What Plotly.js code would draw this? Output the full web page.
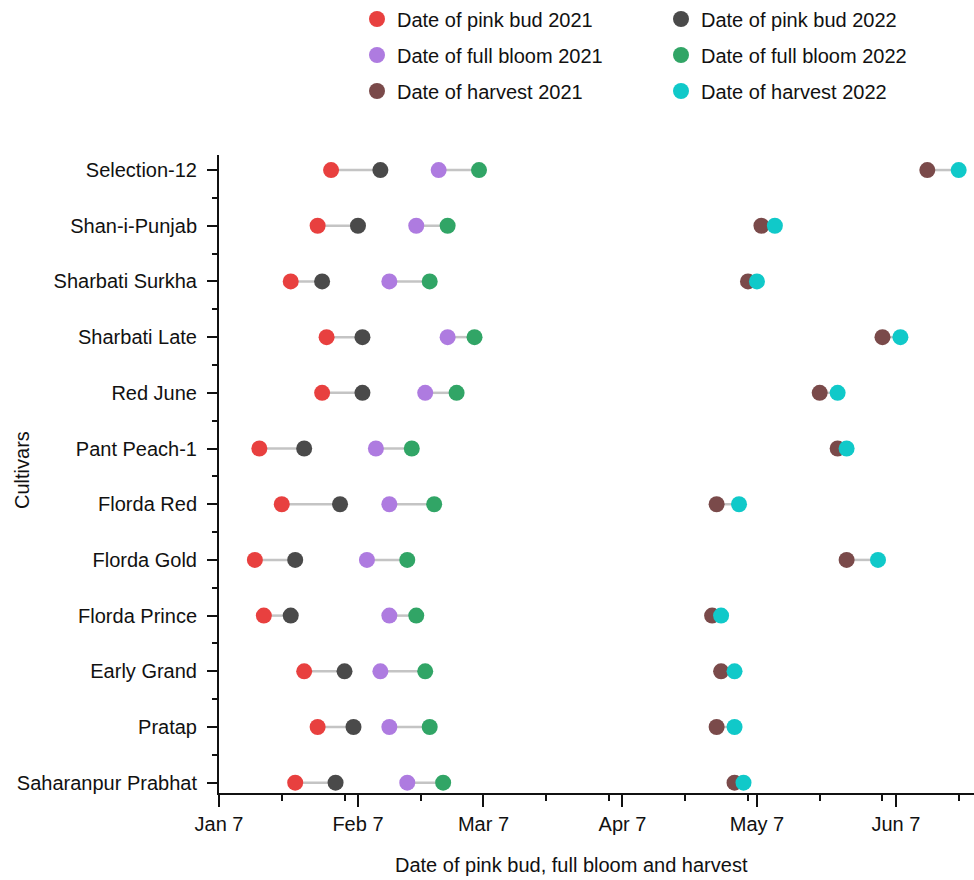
<!DOCTYPE html>
<html><head><meta charset="utf-8">
<script src="https://cdn.plot.ly/plotly-3.0.1.min.js"></script>
<style>html,body{margin:0;padding:0;background:#fff}#chart{width:974px;height:880px}</style>
</head><body><div id="chart"></div>
<script>
// Cultivars, top to bottom as shown
const cultivars = ["Selection-12","Shan-i-Punjab","Sharbati Surkha","Sharbati Late","Red June","Pant Peach-1","Florda Red","Florda Gold","Florda Prince","Early Grand","Pratap","Saharanpur Prabhat"];

// Dates (month-day), plotted on a common reference year
const pinkBud2021   = ["02-01","01-29","01-23","01-31","01-30","01-16","01-21","01-15","01-17","01-26","01-29","01-24"];
const pinkBud2022   = ["02-12","02-07","01-30","02-08","02-08","01-26","02-03","01-24","01-23","02-04","02-06","02-02"];
const fullBloom2021 = ["02-25","02-20","02-14","02-27","02-22","02-11","02-14","02-09","02-14","02-12","02-14","02-18"];
const fullBloom2022 = ["03-06","02-27","02-23","03-05","03-01","02-19","02-24","02-18","02-20","02-22","02-23","02-26"];
const harvest2021   = ["06-14","05-08","05-05","06-04","05-21","05-25","04-28","05-27","04-27","04-29","04-28","05-02"];
const harvest2022   = ["06-21","05-11","05-07","06-08","05-25","05-27","05-03","06-03","04-29","05-02","05-02","05-04"];

const seriesNames = ["Date of pink bud 2021","Date of pink bud 2022","Date of full bloom 2021","Date of full bloom 2022","Date of harvest 2021","Date of harvest 2022"];
const xTickVals = ["01-07","02-07","03-07","04-07","05-07","06-07"];
const xTickText = ["Jan 7","Feb 7","Mar 7","Apr 7","May 7","Jun 7"];
const xMinorTicks = ["01-21","02-04","02-21","03-21","04-04","04-21","05-05","05-21","06-04","06-21"];

const REF_YEAR = "2022-";
const toDate = s => REF_YEAR + s;
const yIdx = cultivars.map((c, i) => cultivars.length - 1 - i);

const colors = ["#e8403f","#4a4a4a","#ae7be0","#31a566","#7a4a4a","#10c9c9"];
const FONT = "Liberation Sans, Arial, sans-serif";
const FS = 20;
const legendIds = ["legend","legend","legend2","legend2","legend3","legend3"];

function connector(a, b) {
  const x = [], y = [];
  a.forEach((v, i) => { x.push(toDate(v), toDate(b[i]), null); y.push(yIdx[i], yIdx[i], null); });
  return {type: "scatter", mode: "lines", x, y, showlegend: false, hoverinfo: "skip",
          line: {color: "#c4c4c4", width: 2.5}};
}
function dots(arr, k) {
  return {type: "scatter", mode: "markers", name: seriesNames[k], legend: legendIds[k], x: arr.map(toDate), y: yIdx,
          marker: {color: colors[k], size: 16, line: {width: 0}}};
}

const data = [
  connector(pinkBud2021, pinkBud2022),
  connector(fullBloom2021, fullBloom2022),
  connector(harvest2021, harvest2022),
  dots(pinkBud2021, 0), dots(pinkBud2022, 1),
  dots(fullBloom2021, 2), dots(fullBloom2022, 3),
  dots(harvest2021, 4), dots(harvest2022, 5)
];

function legendAt(ypx) {
  return {orientation: "h", xref: "container", yref: "container", x: 357/974, y: 1 - ypx/880,
          xanchor: "left", yanchor: "middle", entrywidth: 259, bgcolor: "rgba(0,0,0,0)",
          font: {family: FONT, size: FS, color: "#111"}, traceorder: "normal"};
}

const layout = {
  width: 974, height: 880,
  margin: {l: 219, r: 0, t: 155, b: 87},
  paper_bgcolor: "#fff", plot_bgcolor: "#fff",
  font: {family: FONT, size: FS, color: "#111"},
  showlegend: true,
  legend: legendAt(19), legend2: legendAt(55), legend3: legendAt(91),
  xaxis: {
    type: "date", range: [toDate("01-07"), toDate("06-24 10:00")],
    tickmode: "array", tickvals: xTickVals.map(toDate), ticktext: xTickText,
    ticks: "outside", ticklen: 12, tickwidth: 2, tickcolor: "#111",
    showline: true, linewidth: 2, linecolor: "#111", showgrid: false, zeroline: false,
    tickfont: {family: FONT, size: FS, color: "#111"},
    minor: {tickmode: "array", tickvals: xMinorTicks.map(toDate), ticks: "outside", ticklen: 6, tickwidth: 2, tickcolor: "#111", showgrid: false}
  },
  yaxis: {
    range: [-0.185, 11.27],
    tickmode: "array", tickvals: yIdx, ticktext: cultivars,
    ticks: "outside", ticklen: 10, tickwidth: 2, tickcolor: "#111", ticklabelstandoff: 6,
    showline: true, linewidth: 2, linecolor: "#111", showgrid: false, zeroline: false,
    tickfont: {family: FONT, size: FS, color: "#111"},
    minor: {tickmode: "array", tickvals: yIdx.slice(1).map(v => v + 0.5), ticks: "outside", ticklen: 5, tickwidth: 2, tickcolor: "#111", showgrid: false}
  },
  annotations: [
    {text: "Date of pink bud, full bloom and harvest", xref: "paper", yref: "paper", x: (571-219)/755, y: -72/638,
     xanchor: "center", yanchor: "middle", showarrow: false, font: {family: FONT, size: FS, color: "#111"}},
    {text: "Cultivars", xref: "paper", yref: "paper", x: (22-219)/755, y: (793-470)/638, textangle: -90,
     xanchor: "center", yanchor: "middle", showarrow: false, font: {family: FONT, size: FS, color: "#111"}}
  ]
};

Plotly.newPlot("chart", data, layout, {displayModeBar: false, staticPlot: true});
</script></body></html>
